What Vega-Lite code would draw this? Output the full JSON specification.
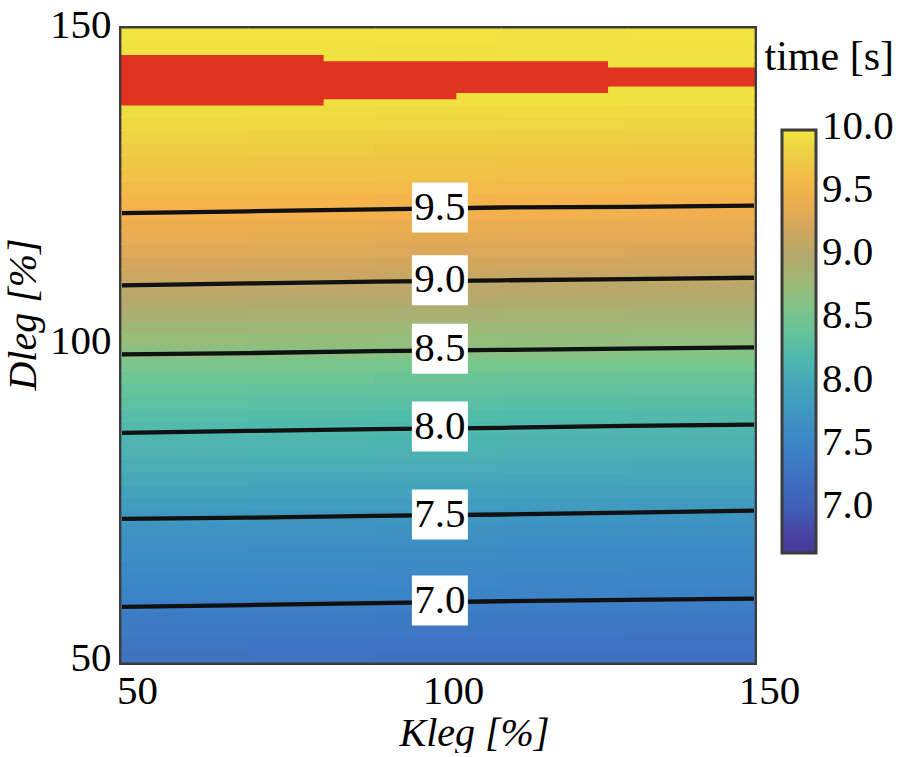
{
  "$schema": "https://vega.github.io/schema/vega-lite/v6.json",
  "width": 632,
  "height": 633,
  "padding": {"left": 3, "top": 4, "right": 0, "bottom": 0},
  "background": "white",
  "title": {"text": "time [s]", "anchor": "end", "frame": "bounds", "orient": "top", "offset": -45, "dy": 63, "baseline": "alphabetic",
            "font": "Liberation Serif", "fontSize": 42, "fontWeight": "normal", "color": "black"},
  "config": {
    "font": "Liberation Serif",
    "view": {"stroke": "#3c3c3c", "strokeWidth": 6},
    "axis": {
      "labelFont": "Liberation Serif", "labelFontSize": 41, "labelColor": "black",
      "titleFont": "Liberation Serif", "titleFontSize": 40, "titleFontStyle": "italic", "titleFontWeight": "normal", "titleColor": "black",
      "grid": false, "domain": false, "ticks": true, "tickSize": -8, "tickColor": "#3c3c3c", "tickWidth": 3,
      "labelFlush": false, "labelOverlap": false
    },
    "legend": {
      "labelFont": "Liberation Serif", "labelFontSize": 41, "labelColor": "black"
    }
  },
  "datasets": {
    "grid": [
      {"k0":50,"k1":70,"d0":50,"d1":52,"t":7.28},{"k0":70,"k1":90,"d0":50,"d1":52,"t":7.27},{"k0":90,"k1":110,"d0":50,"d1":52,"t":7.26},{"k0":110,"k1":130,"d0":50,"d1":52,"t":7.25},{"k0":130,"k1":150,"d0":50,"d1":52,"t":7.24},
      {"k0":50,"k1":70,"d0":52,"d1":54,"t":7.32},{"k0":70,"k1":90,"d0":52,"d1":54,"t":7.31},{"k0":90,"k1":110,"d0":52,"d1":54,"t":7.30},{"k0":110,"k1":130,"d0":52,"d1":54,"t":7.29},{"k0":130,"k1":150,"d0":52,"d1":54,"t":7.28},
      {"k0":50,"k1":70,"d0":54,"d1":56,"t":7.36},{"k0":70,"k1":90,"d0":54,"d1":56,"t":7.35},{"k0":90,"k1":110,"d0":54,"d1":56,"t":7.34},{"k0":110,"k1":130,"d0":54,"d1":56,"t":7.33},{"k0":130,"k1":150,"d0":54,"d1":56,"t":7.32},
      {"k0":50,"k1":70,"d0":56,"d1":58,"t":7.40},{"k0":70,"k1":90,"d0":56,"d1":58,"t":7.39},{"k0":90,"k1":110,"d0":56,"d1":58,"t":7.38},{"k0":110,"k1":130,"d0":56,"d1":58,"t":7.37},{"k0":130,"k1":150,"d0":56,"d1":58,"t":7.36},
      {"k0":50,"k1":70,"d0":58,"d1":60,"t":7.46},{"k0":70,"k1":90,"d0":58,"d1":60,"t":7.45},{"k0":90,"k1":110,"d0":58,"d1":60,"t":7.44},{"k0":110,"k1":130,"d0":58,"d1":60,"t":7.43},{"k0":130,"k1":150,"d0":58,"d1":60,"t":7.42},
      {"k0":50,"k1":70,"d0":60,"d1":62,"t":7.52},{"k0":70,"k1":90,"d0":60,"d1":62,"t":7.51},{"k0":90,"k1":110,"d0":60,"d1":62,"t":7.50},{"k0":110,"k1":130,"d0":60,"d1":62,"t":7.49},{"k0":130,"k1":150,"d0":60,"d1":62,"t":7.48},
      {"k0":50,"k1":70,"d0":62,"d1":64,"t":7.56},{"k0":70,"k1":90,"d0":62,"d1":64,"t":7.55},{"k0":90,"k1":110,"d0":62,"d1":64,"t":7.54},{"k0":110,"k1":130,"d0":62,"d1":64,"t":7.53},{"k0":130,"k1":150,"d0":62,"d1":64,"t":7.52},
      {"k0":50,"k1":70,"d0":64,"d1":66,"t":7.60},{"k0":70,"k1":90,"d0":64,"d1":66,"t":7.59},{"k0":90,"k1":110,"d0":64,"d1":66,"t":7.58},{"k0":110,"k1":130,"d0":64,"d1":66,"t":7.57},{"k0":130,"k1":150,"d0":64,"d1":66,"t":7.56},
      {"k0":50,"k1":70,"d0":66,"d1":68,"t":7.64},{"k0":70,"k1":90,"d0":66,"d1":68,"t":7.63},{"k0":90,"k1":110,"d0":66,"d1":68,"t":7.62},{"k0":110,"k1":130,"d0":66,"d1":68,"t":7.61},{"k0":130,"k1":150,"d0":66,"d1":68,"t":7.60},
      {"k0":50,"k1":70,"d0":68,"d1":70,"t":7.68},{"k0":70,"k1":90,"d0":68,"d1":70,"t":7.67},{"k0":90,"k1":110,"d0":68,"d1":70,"t":7.66},{"k0":110,"k1":130,"d0":68,"d1":70,"t":7.65},{"k0":130,"k1":150,"d0":68,"d1":70,"t":7.64},
      {"k0":50,"k1":70,"d0":70,"d1":72,"t":7.74},{"k0":70,"k1":90,"d0":70,"d1":72,"t":7.73},{"k0":90,"k1":110,"d0":70,"d1":72,"t":7.72},{"k0":110,"k1":130,"d0":70,"d1":72,"t":7.71},{"k0":130,"k1":150,"d0":70,"d1":72,"t":7.70},
      {"k0":50,"k1":70,"d0":72,"d1":74,"t":7.79},{"k0":70,"k1":90,"d0":72,"d1":74,"t":7.78},{"k0":90,"k1":110,"d0":72,"d1":74,"t":7.77},{"k0":110,"k1":130,"d0":72,"d1":74,"t":7.76},{"k0":130,"k1":150,"d0":72,"d1":74,"t":7.75},
      {"k0":50,"k1":70,"d0":74,"d1":76,"t":7.86},{"k0":70,"k1":90,"d0":74,"d1":76,"t":7.85},{"k0":90,"k1":110,"d0":74,"d1":76,"t":7.84},{"k0":110,"k1":130,"d0":74,"d1":76,"t":7.83},{"k0":130,"k1":150,"d0":74,"d1":76,"t":7.82},
      {"k0":50,"k1":70,"d0":76,"d1":78,"t":7.94},{"k0":70,"k1":90,"d0":76,"d1":78,"t":7.93},{"k0":90,"k1":110,"d0":76,"d1":78,"t":7.92},{"k0":110,"k1":130,"d0":76,"d1":78,"t":7.91},{"k0":130,"k1":150,"d0":76,"d1":78,"t":7.90},
      {"k0":50,"k1":70,"d0":78,"d1":80,"t":8.01},{"k0":70,"k1":90,"d0":78,"d1":80,"t":8.00},{"k0":90,"k1":110,"d0":78,"d1":80,"t":7.99},{"k0":110,"k1":130,"d0":78,"d1":80,"t":7.98},{"k0":130,"k1":150,"d0":78,"d1":80,"t":7.97},
      {"k0":50,"k1":70,"d0":80,"d1":82,"t":8.08},{"k0":70,"k1":90,"d0":80,"d1":82,"t":8.07},{"k0":90,"k1":110,"d0":80,"d1":82,"t":8.06},{"k0":110,"k1":130,"d0":80,"d1":82,"t":8.05},{"k0":130,"k1":150,"d0":80,"d1":82,"t":8.04},
      {"k0":50,"k1":70,"d0":82,"d1":84,"t":8.13},{"k0":70,"k1":90,"d0":82,"d1":84,"t":8.12},{"k0":90,"k1":110,"d0":82,"d1":84,"t":8.11},{"k0":110,"k1":130,"d0":82,"d1":84,"t":8.10},{"k0":130,"k1":150,"d0":82,"d1":84,"t":8.09},
      {"k0":50,"k1":70,"d0":84,"d1":86,"t":8.18},{"k0":70,"k1":90,"d0":84,"d1":86,"t":8.17},{"k0":90,"k1":110,"d0":84,"d1":86,"t":8.16},{"k0":110,"k1":130,"d0":84,"d1":86,"t":8.15},{"k0":130,"k1":150,"d0":84,"d1":86,"t":8.14},
      {"k0":50,"k1":70,"d0":86,"d1":88,"t":8.22},{"k0":70,"k1":90,"d0":86,"d1":88,"t":8.21},{"k0":90,"k1":110,"d0":86,"d1":88,"t":8.20},{"k0":110,"k1":130,"d0":86,"d1":88,"t":8.19},{"k0":130,"k1":150,"d0":86,"d1":88,"t":8.18},
      {"k0":50,"k1":70,"d0":88,"d1":90,"t":8.27},{"k0":70,"k1":90,"d0":88,"d1":90,"t":8.26},{"k0":90,"k1":110,"d0":88,"d1":90,"t":8.25},{"k0":110,"k1":130,"d0":88,"d1":90,"t":8.24},{"k0":130,"k1":150,"d0":88,"d1":90,"t":8.23},
      {"k0":50,"k1":70,"d0":90,"d1":92,"t":8.33},{"k0":70,"k1":90,"d0":90,"d1":92,"t":8.32},{"k0":90,"k1":110,"d0":90,"d1":92,"t":8.31},{"k0":110,"k1":130,"d0":90,"d1":92,"t":8.30},{"k0":130,"k1":150,"d0":90,"d1":92,"t":8.29},
      {"k0":50,"k1":70,"d0":92,"d1":94,"t":8.39},{"k0":70,"k1":90,"d0":92,"d1":94,"t":8.38},{"k0":90,"k1":110,"d0":92,"d1":94,"t":8.37},{"k0":110,"k1":130,"d0":92,"d1":94,"t":8.36},{"k0":130,"k1":150,"d0":92,"d1":94,"t":8.35},
      {"k0":50,"k1":70,"d0":94,"d1":96,"t":8.46},{"k0":70,"k1":90,"d0":94,"d1":96,"t":8.45},{"k0":90,"k1":110,"d0":94,"d1":96,"t":8.44},{"k0":110,"k1":130,"d0":94,"d1":96,"t":8.43},{"k0":130,"k1":150,"d0":94,"d1":96,"t":8.42},
      {"k0":50,"k1":70,"d0":96,"d1":98,"t":8.55},{"k0":70,"k1":90,"d0":96,"d1":98,"t":8.54},{"k0":90,"k1":110,"d0":96,"d1":98,"t":8.53},{"k0":110,"k1":130,"d0":96,"d1":98,"t":8.52},{"k0":130,"k1":150,"d0":96,"d1":98,"t":8.51},
      {"k0":50,"k1":70,"d0":98,"d1":100,"t":8.66},{"k0":70,"k1":90,"d0":98,"d1":100,"t":8.65},{"k0":90,"k1":110,"d0":98,"d1":100,"t":8.64},{"k0":110,"k1":130,"d0":98,"d1":100,"t":8.63},{"k0":130,"k1":150,"d0":98,"d1":100,"t":8.62},
      {"k0":50,"k1":70,"d0":100,"d1":102,"t":8.75},{"k0":70,"k1":90,"d0":100,"d1":102,"t":8.74},{"k0":90,"k1":110,"d0":100,"d1":102,"t":8.73},{"k0":110,"k1":130,"d0":100,"d1":102,"t":8.72},{"k0":130,"k1":150,"d0":100,"d1":102,"t":8.71},
      {"k0":50,"k1":70,"d0":102,"d1":104,"t":8.83},{"k0":70,"k1":90,"d0":102,"d1":104,"t":8.82},{"k0":90,"k1":110,"d0":102,"d1":104,"t":8.81},{"k0":110,"k1":130,"d0":102,"d1":104,"t":8.80},{"k0":130,"k1":150,"d0":102,"d1":104,"t":8.79},
      {"k0":50,"k1":70,"d0":104,"d1":106,"t":8.91},{"k0":70,"k1":90,"d0":104,"d1":106,"t":8.90},{"k0":90,"k1":110,"d0":104,"d1":106,"t":8.89},{"k0":110,"k1":130,"d0":104,"d1":106,"t":8.88},{"k0":130,"k1":150,"d0":104,"d1":106,"t":8.87},
      {"k0":50,"k1":70,"d0":106,"d1":108,"t":9.00},{"k0":70,"k1":90,"d0":106,"d1":108,"t":8.99},{"k0":90,"k1":110,"d0":106,"d1":108,"t":8.98},{"k0":110,"k1":130,"d0":106,"d1":108,"t":8.97},{"k0":130,"k1":150,"d0":106,"d1":108,"t":8.96},
      {"k0":50,"k1":70,"d0":108,"d1":110,"t":9.08},{"k0":70,"k1":90,"d0":108,"d1":110,"t":9.07},{"k0":90,"k1":110,"d0":108,"d1":110,"t":9.06},{"k0":110,"k1":130,"d0":108,"d1":110,"t":9.05},{"k0":130,"k1":150,"d0":108,"d1":110,"t":9.04},
      {"k0":50,"k1":70,"d0":110,"d1":112,"t":9.17},{"k0":70,"k1":90,"d0":110,"d1":112,"t":9.16},{"k0":90,"k1":110,"d0":110,"d1":112,"t":9.15},{"k0":110,"k1":130,"d0":110,"d1":112,"t":9.14},{"k0":130,"k1":150,"d0":110,"d1":112,"t":9.13},
      {"k0":50,"k1":70,"d0":112,"d1":114,"t":9.25},{"k0":70,"k1":90,"d0":112,"d1":114,"t":9.24},{"k0":90,"k1":110,"d0":112,"d1":114,"t":9.23},{"k0":110,"k1":130,"d0":112,"d1":114,"t":9.22},{"k0":130,"k1":150,"d0":112,"d1":114,"t":9.21},
      {"k0":50,"k1":70,"d0":114,"d1":116,"t":9.32},{"k0":70,"k1":90,"d0":114,"d1":116,"t":9.31},{"k0":90,"k1":110,"d0":114,"d1":116,"t":9.30},{"k0":110,"k1":130,"d0":114,"d1":116,"t":9.29},{"k0":130,"k1":150,"d0":114,"d1":116,"t":9.28},
      {"k0":50,"k1":70,"d0":116,"d1":118,"t":9.38},{"k0":70,"k1":90,"d0":116,"d1":118,"t":9.37},{"k0":90,"k1":110,"d0":116,"d1":118,"t":9.36},{"k0":110,"k1":130,"d0":116,"d1":118,"t":9.35},{"k0":130,"k1":150,"d0":116,"d1":118,"t":9.34},
      {"k0":50,"k1":70,"d0":118,"d1":120,"t":9.44},{"k0":70,"k1":90,"d0":118,"d1":120,"t":9.43},{"k0":90,"k1":110,"d0":118,"d1":120,"t":9.42},{"k0":110,"k1":130,"d0":118,"d1":120,"t":9.41},{"k0":130,"k1":150,"d0":118,"d1":120,"t":9.40},
      {"k0":50,"k1":70,"d0":120,"d1":122,"t":9.50},{"k0":70,"k1":90,"d0":120,"d1":122,"t":9.49},{"k0":90,"k1":110,"d0":120,"d1":122,"t":9.48},{"k0":110,"k1":130,"d0":120,"d1":122,"t":9.47},{"k0":130,"k1":150,"d0":120,"d1":122,"t":9.46},
      {"k0":50,"k1":70,"d0":122,"d1":124,"t":9.55},{"k0":70,"k1":90,"d0":122,"d1":124,"t":9.54},{"k0":90,"k1":110,"d0":122,"d1":124,"t":9.53},{"k0":110,"k1":130,"d0":122,"d1":124,"t":9.52},{"k0":130,"k1":150,"d0":122,"d1":124,"t":9.51},
      {"k0":50,"k1":70,"d0":124,"d1":126,"t":9.61},{"k0":70,"k1":90,"d0":124,"d1":126,"t":9.60},{"k0":90,"k1":110,"d0":124,"d1":126,"t":9.59},{"k0":110,"k1":130,"d0":124,"d1":126,"t":9.58},{"k0":130,"k1":150,"d0":124,"d1":126,"t":9.57},
      {"k0":50,"k1":70,"d0":126,"d1":128,"t":9.68},{"k0":70,"k1":90,"d0":126,"d1":128,"t":9.67},{"k0":90,"k1":110,"d0":126,"d1":128,"t":9.66},{"k0":110,"k1":130,"d0":126,"d1":128,"t":9.65},{"k0":130,"k1":150,"d0":126,"d1":128,"t":9.64},
      {"k0":50,"k1":70,"d0":128,"d1":130,"t":9.74},{"k0":70,"k1":90,"d0":128,"d1":130,"t":9.73},{"k0":90,"k1":110,"d0":128,"d1":130,"t":9.72},{"k0":110,"k1":130,"d0":128,"d1":130,"t":9.71},{"k0":130,"k1":150,"d0":128,"d1":130,"t":9.70},
      {"k0":50,"k1":70,"d0":130,"d1":132,"t":9.79},{"k0":70,"k1":90,"d0":130,"d1":132,"t":9.78},{"k0":90,"k1":110,"d0":130,"d1":132,"t":9.77},{"k0":110,"k1":130,"d0":130,"d1":132,"t":9.76},{"k0":130,"k1":150,"d0":130,"d1":132,"t":9.75},
      {"k0":50,"k1":70,"d0":132,"d1":134,"t":9.84},{"k0":70,"k1":90,"d0":132,"d1":134,"t":9.83},{"k0":90,"k1":110,"d0":132,"d1":134,"t":9.82},{"k0":110,"k1":130,"d0":132,"d1":134,"t":9.81},{"k0":130,"k1":150,"d0":132,"d1":134,"t":9.80},
      {"k0":50,"k1":70,"d0":134,"d1":136,"t":9.89},{"k0":70,"k1":90,"d0":134,"d1":136,"t":9.88},{"k0":90,"k1":110,"d0":134,"d1":136,"t":9.87},{"k0":110,"k1":130,"d0":134,"d1":136,"t":9.86},{"k0":130,"k1":150,"d0":134,"d1":136,"t":9.85},
      {"k0":50,"k1":70,"d0":136,"d1":138,"t":9.93},{"k0":70,"k1":90,"d0":136,"d1":138,"t":9.92},{"k0":90,"k1":110,"d0":136,"d1":138,"t":9.91},{"k0":110,"k1":130,"d0":136,"d1":138,"t":9.90},{"k0":130,"k1":150,"d0":136,"d1":138,"t":9.89},
      {"k0":50,"k1":82,"d0":138,"d1":139,"t":10.2},{"k0":82,"k1":103,"d0":138,"d1":139,"t":9.95},{"k0":103,"k1":127,"d0":138,"d1":139,"t":9.95},{"k0":127,"k1":150,"d0":138,"d1":139,"t":9.95},
      {"k0":50,"k1":82,"d0":139,"d1":140,"t":10.2},{"k0":82,"k1":103,"d0":139,"d1":140,"t":10.2},{"k0":103,"k1":127,"d0":139,"d1":140,"t":9.96},{"k0":127,"k1":150,"d0":139,"d1":140,"t":9.96},
      {"k0":50,"k1":82,"d0":140,"d1":141,"t":10.2},{"k0":82,"k1":103,"d0":140,"d1":141,"t":10.2},{"k0":103,"k1":127,"d0":140,"d1":141,"t":10.2},{"k0":127,"k1":150,"d0":140,"d1":141,"t":9.96},
      {"k0":50,"k1":82,"d0":141,"d1":142,"t":10.2},{"k0":82,"k1":103,"d0":141,"d1":142,"t":10.2},{"k0":103,"k1":127,"d0":141,"d1":142,"t":10.2},{"k0":127,"k1":150,"d0":141,"d1":142,"t":10.2},
      {"k0":50,"k1":82,"d0":142,"d1":143,"t":10.2},{"k0":82,"k1":103,"d0":142,"d1":143,"t":10.2},{"k0":103,"k1":127,"d0":142,"d1":143,"t":10.2},{"k0":127,"k1":150,"d0":142,"d1":143,"t":10.2},
      {"k0":50,"k1":82,"d0":143,"d1":144,"t":10.2},{"k0":82,"k1":103,"d0":143,"d1":144,"t":10.2},{"k0":103,"k1":127,"d0":143,"d1":144,"t":10.2},{"k0":127,"k1":150,"d0":143,"d1":144,"t":10.2},
      {"k0":50,"k1":82,"d0":144,"d1":145,"t":10.2},{"k0":82,"k1":103,"d0":144,"d1":145,"t":10.2},{"k0":103,"k1":127,"d0":144,"d1":145,"t":10.2},{"k0":127,"k1":150,"d0":144,"d1":145,"t":9.97},
      {"k0":50,"k1":82,"d0":145,"d1":146,"t":10.2},{"k0":82,"k1":103,"d0":145,"d1":146,"t":9.97},{"k0":103,"k1":127,"d0":145,"d1":146,"t":9.97},{"k0":127,"k1":150,"d0":145,"d1":146,"t":9.97},
      {"k0":50,"k1":70,"d0":146,"d1":148,"t":9.97},{"k0":70,"k1":90,"d0":146,"d1":148,"t":9.97},{"k0":90,"k1":110,"d0":146,"d1":148,"t":9.96},{"k0":110,"k1":130,"d0":146,"d1":148,"t":9.97},{"k0":130,"k1":150,"d0":146,"d1":148,"t":9.97},
      {"k0":50,"k1":70,"d0":148,"d1":150,"t":9.98},{"k0":70,"k1":90,"d0":148,"d1":150,"t":9.98},{"k0":90,"k1":110,"d0":148,"d1":150,"t":9.98},{"k0":110,"k1":130,"d0":148,"d1":150,"t":9.97},{"k0":130,"k1":150,"d0":148,"d1":150,"t":9.98}
    ],
    "contours": [
      {"lv":9.5,"k":50,"d":120.9},{"lv":9.5,"k":70,"d":121.2},{"lv":9.5,"k":90,"d":121.5},{"lv":9.5,"k":110,"d":121.8},{"lv":9.5,"k":130,"d":121.9},{"lv":9.5,"k":150,"d":122.1},
      {"lv":9.0,"k":50,"d":109.5},{"lv":9.0,"k":70,"d":109.8},{"lv":9.0,"k":90,"d":110.1},{"lv":9.0,"k":110,"d":110.3},{"lv":9.0,"k":130,"d":110.5},{"lv":9.0,"k":150,"d":110.7},
      {"lv":8.5,"k":50,"d":98.6},{"lv":8.5,"k":70,"d":98.8},{"lv":8.5,"k":90,"d":99.1},{"lv":8.5,"k":110,"d":99.3},{"lv":8.5,"k":130,"d":99.5},{"lv":8.5,"k":150,"d":99.7},
      {"lv":8.0,"k":50,"d":86.2},{"lv":8.0,"k":70,"d":86.5},{"lv":8.0,"k":90,"d":86.8},{"lv":8.0,"k":110,"d":87.0},{"lv":8.0,"k":130,"d":87.3},{"lv":8.0,"k":150,"d":87.5},
      {"lv":7.5,"k":50,"d":72.6},{"lv":7.5,"k":70,"d":72.8},{"lv":7.5,"k":90,"d":73.1},{"lv":7.5,"k":110,"d":73.3},{"lv":7.5,"k":130,"d":73.6},{"lv":7.5,"k":150,"d":73.9},
      {"lv":7.0,"k":50,"d":58.7},{"lv":7.0,"k":70,"d":59.0},{"lv":7.0,"k":90,"d":59.3},{"lv":7.0,"k":110,"d":59.6},{"lv":7.0,"k":130,"d":59.8},{"lv":7.0,"k":150,"d":60.0}
    ],
    "labels": [
      {"lv":9.5,"k":100.3,"d":121.8},{"lv":9.0,"k":100.3,"d":110.3},{"lv":8.5,"k":100.3,"d":99.5},
      {"lv":8.0,"k":100.3,"d":87.2},{"lv":7.5,"k":100.3,"d":73.3},{"lv":7.0,"k":100.3,"d":59.7}
    ]
  },
  "layer": [
    {
      "data": {"name": "grid"},
      "mark": {"type": "rect", "xOffset": -0.6, "x2Offset": 0.6, "yOffset": 0.6, "y2Offset": -0.6},
      "encoding": {
        "x": {"field": "k0", "type": "quantitative", "title": "Kleg [%]",
              "scale": {"domain": [50, 150], "nice": false, "zero": false},
              "axis": {"values": [50, 100, 150], "labelPadding": 17, "labelOffset": 15, "titlePadding": 2, "titleX": 352}},
        "x2": {"field": "k1"},
        "y": {"field": "d0", "type": "quantitative", "title": "Dleg [%]",
              "scale": {"domain": [50, 150], "nice": false, "zero": false},
              "axis": {"values": [50, 100, 150], "labelPadding": 19, "labelOffset": -4, "titlePadding": 6, "titleY": 285}},
        "y2": {"field": "d1"},
        "color": {
          "condition": {"test": "datum.t > 10", "value": "#e03320"},
          "field": "t", "type": "quantitative", "title": null,
          "scale": {
            "domain": [6.65, 6.85, 7.0, 7.25, 7.5, 7.75, 8.0, 8.25, 8.5, 8.75, 9.0, 9.25, 9.5, 9.75, 10.0],
            "range": ["#483896", "#4848a8", "#405fb5", "#3f70c0", "#3c84c8", "#3e95c2", "#45a8ba", "#52bcaa", "#72c890", "#98bc7a", "#b4a86c", "#d6a65c", "#f6b14c", "#eec843", "#f0e640"],
            "interpolate": "rgb", "clamp": true
          },
          "legend": {
            "type": "gradient", "orient": "none", "legendX": 660, "legendY": 101, "padding": 0,
            "values": [7.0, 7.5, 8.0, 8.5, 9.0, 9.5, 10.0], "format": ".1f",
            "gradientLength": 423, "gradientThickness": 34,
            "gradientStrokeColor": "#3c3c3c", "gradientStrokeWidth": 3,
            "labelOffset": 6, "labelOverlap": false,
            "encode": {"labels": {"update": {"baseline": {"value": "middle"}, "dy": {"value": -3}}}}
          }
        }
      }
    },
    {
      "data": {"name": "contours"},
      "mark": {"type": "line", "color": "#111111", "strokeWidth": 4.3},
      "encoding": {
        "x": {"field": "k", "type": "quantitative", "title": "Kleg [%]"},
        "y": {"field": "d", "type": "quantitative", "title": "Dleg [%]"},
        "detail": {"field": "lv", "type": "nominal"}
      }
    },
    {
      "data": {"name": "labels"},
      "mark": {"type": "point", "shape": "M-1.12,-1L1.12,-1L1.12,1L-1.12,1Z", "size": 2500, "filled": true, "color": "white", "opacity": 1, "strokeWidth": 0},
      "encoding": {
        "x": {"field": "k", "type": "quantitative", "title": "Kleg [%]"},
        "y": {"field": "d", "type": "quantitative", "title": "Dleg [%]"}
      }
    },
    {
      "data": {"name": "labels"},
      "mark": {"type": "text", "font": "Liberation Serif", "fontSize": 41, "color": "black", "baseline": "middle", "align": "center"},
      "encoding": {
        "x": {"field": "k", "type": "quantitative", "title": "Kleg [%]"},
        "y": {"field": "d", "type": "quantitative", "title": "Dleg [%]"},
        "text": {"field": "lv", "type": "quantitative", "format": ".1f"}
      }
    }
  ]
}
